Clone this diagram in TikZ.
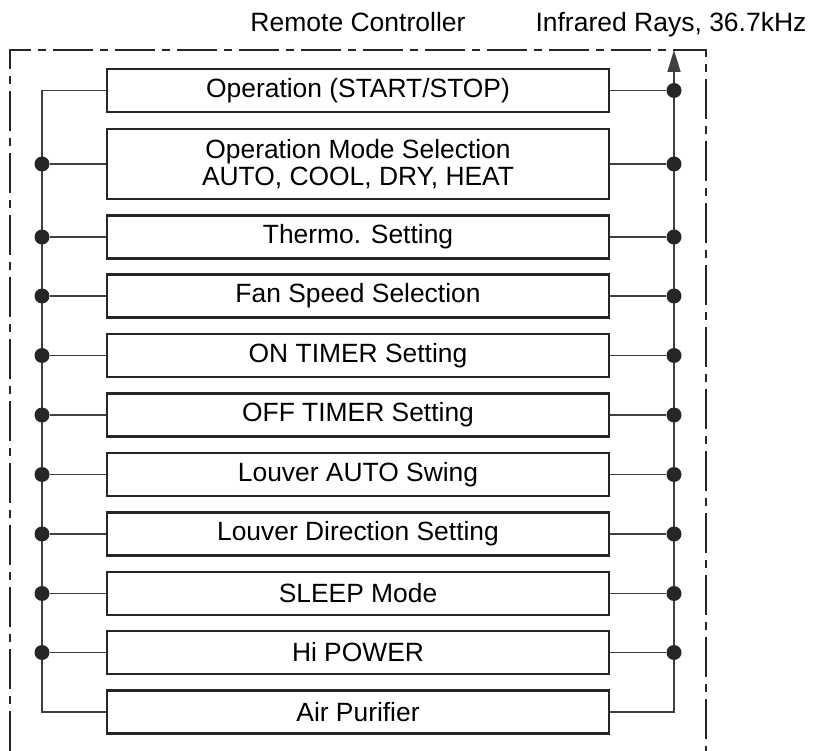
\documentclass[tikz,border=0pt]{standalone}
\usepackage{fontspec}
\setmainfont{Liberation Sans}
\usepackage{tikz}
\usetikzlibrary{positioning, arrows.meta}
\tikzstyle{link} = [line width=1.7pt, draw=black!75]

\begin{document}
\begin{tikzpicture}[x=1pt, y=-1pt,
    funcbox/.style={rectangle, draw=black!85, line width=2.4pt, minimum width=502pt, minimum height=43pt, inner sep=0pt, align=center, font=\fontsize{26.4}{27.5}\selectfont},
    junction/.style={circle, fill=black!85, inner sep=0pt, minimum size=15pt},
    frame/.style={line width=2.5pt, draw=black!85, dash pattern=on 40pt off 7pt on 8pt off 7pt},
    headtext/.style={font=\fontsize{26.5}{30}\selectfont, anchor=base}
]
    \useasboundingbox (0,0) rectangle (817,751);

    % Headings
    \node[headtext] (title) at (358,32) {Remote Controller};
    \node[headtext] (irlabel) at (671,31.5) {Infrared Rays, 36.7kHz};

    % Controller outline (open at the bottom)
    \draw[frame] (10,751) -- (10,50) -- (706,50) -- (706,751);

    % Bus positions
    \coordinate (lbus) at (42,0);
    \coordinate (rbus) at (674,0);
    \coordinate (irtip) at (674,50);

    % Function boxes
    \node[funcbox, minimum height=43pt] (opbox) at (358,90.5) {Operation (START/STOP)};
    \node[funcbox, minimum height=70pt] (modebox) at (358,164) {Operation Mode Selection\\AUTO, COOL, DRY, HEAT};
    \node[funcbox] (thermobox) at (358,237) {Thermo. Setting};
    \node[funcbox] (fanbox) at (358,296) {Fan Speed Selection};
    \node[funcbox] (ontimerbox) at (358,355.5) {ON TIMER Setting};
    \node[funcbox] (offtimerbox) at (358,415) {OFF TIMER Setting};
    \node[funcbox] (swingbox) at (358,474.5) {Louver AUTO Swing};
    \node[funcbox] (louverbox) at (358,534) {Louver Direction Setting};
    \node[funcbox] (sleepbox) at (358,593.5) {SLEEP Mode};
    \node[funcbox] (hipowerbox) at (358,652.5) {Hi POWER};
    \node[funcbox] (purifierbox) at (358,712) {Air Purifier};

    % Left bus
    \draw[link] (opbox.west) -| (purifierbox.west -| lbus) -- (purifierbox.west);

    % Right bus up to the IR output
    \draw[link, -{Triangle[length=22pt, width=13pt]}] (purifierbox.east) -| (irtip);

    % Left junctions
    \node[junction] (lmode) at (modebox.west -| lbus) {};
    \node[junction] (lthermo) at (thermobox.west -| lbus) {};
    \node[junction] (lfan) at (fanbox.west -| lbus) {};
    \node[junction] (lontimer) at (ontimerbox.west -| lbus) {};
    \node[junction] (lofftimer) at (offtimerbox.west -| lbus) {};
    \node[junction] (lswing) at (swingbox.west -| lbus) {};
    \node[junction] (llouver) at (louverbox.west -| lbus) {};
    \node[junction] (lsleep) at (sleepbox.west -| lbus) {};
    \node[junction] (lhipower) at (hipowerbox.west -| lbus) {};

    \draw[link] (lmode) -- (modebox.west);
    \draw[link] (lthermo) -- (thermobox.west);
    \draw[link] (lfan) -- (fanbox.west);
    \draw[link] (lontimer) -- (ontimerbox.west);
    \draw[link] (lofftimer) -- (offtimerbox.west);
    \draw[link] (lswing) -- (swingbox.west);
    \draw[link] (llouver) -- (louverbox.west);
    \draw[link] (lsleep) -- (sleepbox.west);
    \draw[link] (lhipower) -- (hipowerbox.west);

    % Right junctions
    \node[junction] (rop) at (opbox.east -| rbus) {};
    \node[junction] (rmode) at (modebox.east -| rbus) {};
    \node[junction] (rthermo) at (thermobox.east -| rbus) {};
    \node[junction] (rfan) at (fanbox.east -| rbus) {};
    \node[junction] (rontimer) at (ontimerbox.east -| rbus) {};
    \node[junction] (rofftimer) at (offtimerbox.east -| rbus) {};
    \node[junction] (rswing) at (swingbox.east -| rbus) {};
    \node[junction] (rlouver) at (louverbox.east -| rbus) {};
    \node[junction] (rsleep) at (sleepbox.east -| rbus) {};
    \node[junction] (rhipower) at (hipowerbox.east -| rbus) {};

    \draw[link] (opbox.east) -- (rop);
    \draw[link] (modebox.east) -- (rmode);
    \draw[link] (thermobox.east) -- (rthermo);
    \draw[link] (fanbox.east) -- (rfan);
    \draw[link] (ontimerbox.east) -- (rontimer);
    \draw[link] (offtimerbox.east) -- (rofftimer);
    \draw[link] (swingbox.east) -- (rswing);
    \draw[link] (louverbox.east) -- (rlouver);
    \draw[link] (sleepbox.east) -- (rsleep);
    \draw[link] (hipowerbox.east) -- (rhipower);

\end{tikzpicture}
\end{document}
